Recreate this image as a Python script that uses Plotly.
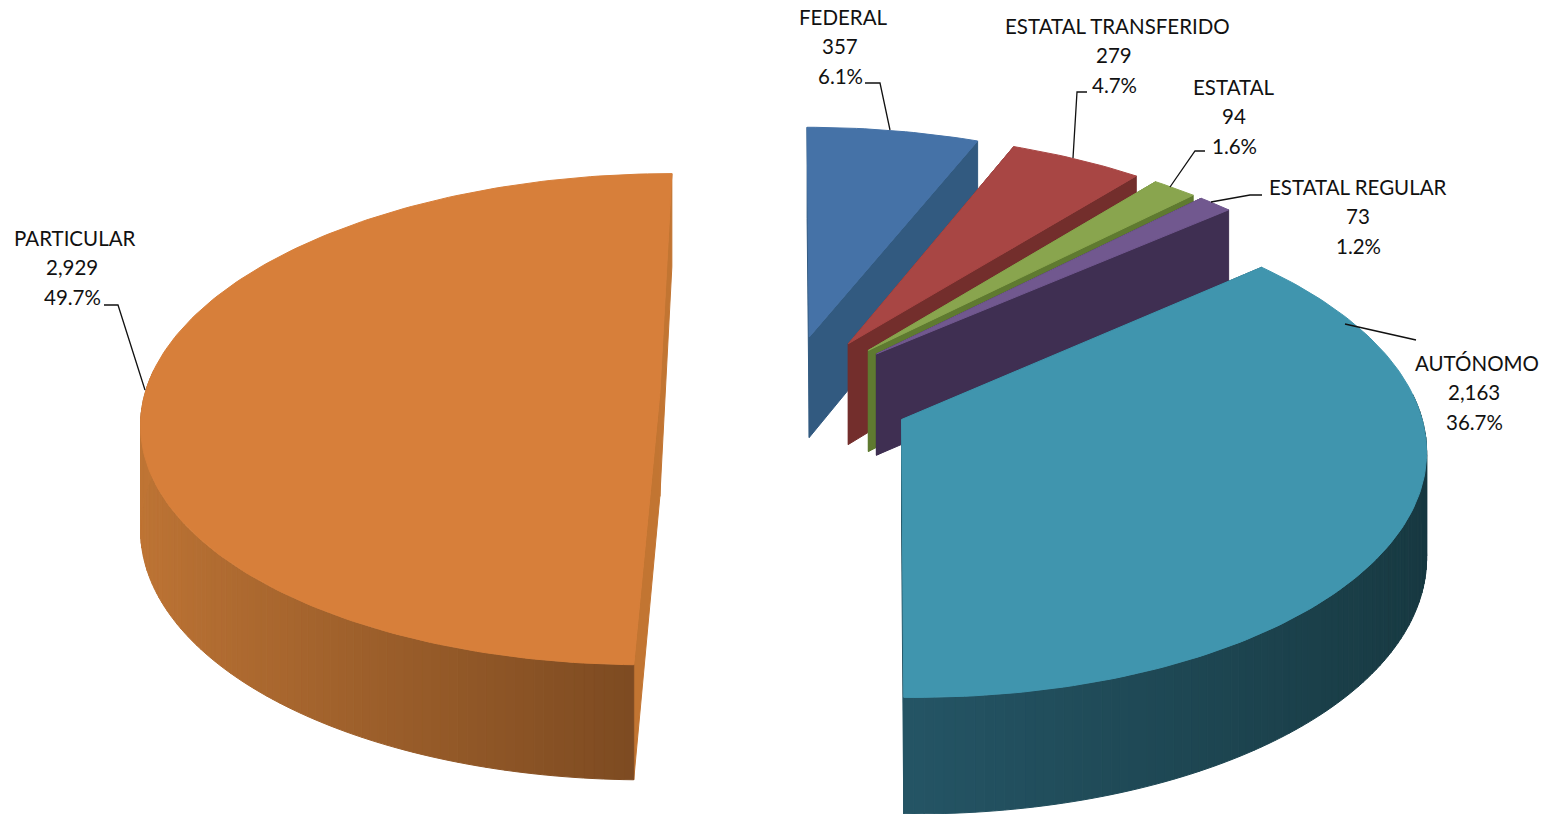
import math
import plotly.graph_objects as go

categories = ["FEDERAL", "ESTATAL TRANSFERIDO", "ESTATAL", "ESTATAL REGULAR", "AUTÓNOMO", "PARTICULAR"]
values = [357, 279, 94, 73, 2163, 2929]

top_colors = ["#4572A7", "#A84644", "#89A54E", "#71588F", "#4095AE", "#D77F3A"]
wall_colors = ["#325A80", "#732E2C", "#5F7A30", "#3F2F52", "#245464", "#C27532"]
arc_bottom = ["#325A80", "#732E2C", "#5F7A30", "#3F2F52", "#245464", "#7C4A21"]
arc_side = ["#325A80", "#732E2C", "#5F7A30", "#3F2F52", "#173840", "#BF7535"]

# projection settings (pixels of the page)
CX, CY, A, B, K, H, EXPLODE = 786, 394, 515, 243, 0.105, 103, 0.245


def project(x, y, z=0.0):
    s = 1 / (1 + K * y)
    return CX + A * x * s, CY - B * y * s + H * z * s


def hexmix(c1, c2, t):
    a = [int(c1[i:i + 2], 16) for i in (1, 3, 5)]
    b = [int(c2[i:i + 2], 16) for i in (1, 3, 5)]
    return "#" + "".join(f"{round(p + (q - p) * t):02x}" for p, q in zip(a, b))


def poly(pts, color, lw=1):
    return go.Scatter(x=[p[0] for p in pts] + [pts[0][0]], y=[p[1] for p in pts] + [pts[0][1]],
                      mode="lines", fill="toself", fillcolor=color,
                      line=dict(color=color, width=lw), hoverinfo="skip", showlegend=False)


fig = go.Figure()
total = sum(values)
start = 0.0
for i, v in enumerate(values):
    sweep = 360 * v / total
    end = start + sweep
    mid = math.radians(start + sweep / 2)
    ox, oy = EXPLODE * math.sin(mid), EXPLODE * math.cos(mid)

    def rim(deg, z=0.0):
        t = math.radians(deg)
        return project(ox + math.sin(t), oy + math.cos(t), z)

    apex_t, apex_b = project(ox, oy), project(ox, oy, 1)
    # radial walls
    fig.add_trace(poly([apex_t, rim(start), rim(start, 1), apex_b], wall_colors[i]))
    fig.add_trace(poly([apex_t, rim(end), rim(end, 1), apex_b], wall_colors[i]))
    # outer wall, in small strips for the shading (near half only)
    n = max(2, int(sweep))
    for j in range(n):
        a0 = start + sweep * j / n
        a1 = start + sweep * (j + 1) / n
        am = math.radians((a0 + a1) / 2)
        if math.cos(am) > 0.1:
            continue
        col = hexmix(arc_bottom[i], arc_side[i], abs(math.sin(am)))
        fig.add_trace(poly([rim(a0), rim(a1), rim(a1, 1), rim(a0, 1)], col))
    # top face
    m = max(4, int(sweep))
    pts = [apex_t] + [rim(start + sweep * j / m) for j in range(m + 1)]
    fig.add_trace(poly(pts, top_colors[i]))
    start = end

# labels: three lines each, 29.5 px apart
label_xy = [(843, 46), (1117, 55), (1234, 116), (1358, 216), (1477, 392), (75, 267)]
number_dx = [-3, -3, 0, 0, -3, -3]
annotations = []
for name, v, (lx, ly), dx in zip(categories, values, label_xy, number_dx):
    lines = [name, f"{v:,}", f"{100 * v / total:.1f}%"]
    for k, line in enumerate(lines):
        annotations.append(dict(x=lx + (dx if k else 0), y=ly + (k - 1) * 29.5, xref="x", yref="y",
                                showarrow=False, align="center", text=line,
                                font=dict(family="Lato", size=20.5, color="#111111")))

leaders = [
    [(865, 83), (880, 83), (890, 130)],
    [(1087, 92), (1077, 92), (1073, 158)],
    [(1205, 151), (1195, 151), (1170, 187)],
    [(1262, 195), (1250, 195), (1211, 202)],
    [(1345, 324), (1416, 340)],
    [(104, 305), (118, 305), (145, 390)],
]
for ln in leaders:
    fig.add_trace(go.Scatter(x=[p[0] for p in ln], y=[p[1] for p in ln], mode="lines",
                             line=dict(color="#111111", width=1.3), hoverinfo="skip", showlegend=False))

fig.update_layout(
    width=1550, height=814, margin=dict(l=0, r=0, t=0, b=0),
    paper_bgcolor="white", plot_bgcolor="white", showlegend=False, annotations=annotations,
    xaxis=dict(range=[0, 1550], visible=False, fixedrange=True),
    yaxis=dict(range=[814, 0], visible=False, fixedrange=True),
)
fig.write_html("out.html", config={"displayModeBar": False},
               post_script="document.body.style.margin='0';document.body.style.overflow='hidden';")
